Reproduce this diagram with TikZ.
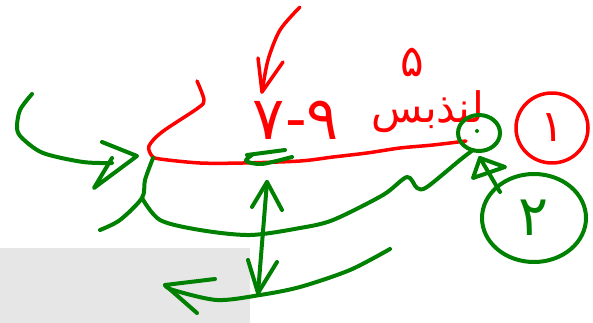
\documentclass[tikz,border=0pt]{standalone}
\usepackage{fontspec}
\usetikzlibrary{shapes.geometric}
\newfontfamily\arabicfont[Script=Arabic]{DejaVu Sans}
\TeXXeTstate=1
\definecolor{sketchgreen}{HTML}{008000}
\definecolor{sketchred}{HTML}{FF0000}
\definecolor{paper}{HTML}{E6E6E6}
\begin{document}
\begin{tikzpicture}[x=1pt,y=-1pt,
  rs/.style={draw=sketchred,line width=3.5pt,line cap=round,line join=round},
  gs/.style={draw=sketchgreen,line width=4pt,line cap=round,line join=round},
  rtext/.style={text=sketchred,inner sep=0pt,font=\arabicfont\fontsize{#1}{#1}\selectfont},
  gtext/.style={text=sketchgreen,inner sep=0pt,font=\arabicfont\fontsize{#1}{#1}\selectfont}]
\useasboundingbox (0,0) rectangle (593,323);
% grey paper patch
\fill[paper] (0,248) rectangle (250,323);
% red arrow from top
\draw[rs] plot[smooth] coordinates {(300,7) (280,30) (268,60) (262,92)};
\draw[rs] (258,58) -- (262,92) -- (283,62);
% red bracket and long line
\draw[rs] plot[smooth] coordinates {(197,81) (204,100) (198,108) (162,132) (149,146) (152,156) (160,159) (200,163) (243,163) (300,161) (333,157) (367,153) (400,148) (433,145) (466,141)};
% texts
\node[rtext=60] (range) at (296,120) {۷-۹};
\node[rtext=44] (five) at (412,62) {۵};
\node[rtext=42] (word) at (428,112) {\beginR لنذبس\endR};
\node[rtext=44] (one) at (552,128) {۱};
\draw[rs] (one) ellipse [x radius=36,y radius=35];
% green small circle
\node[draw=sketchgreen,line width=4pt,ellipse,minimum width=42pt,minimum height=36pt,inner sep=0pt] (ball) at (479,133) {};
\fill[sketchgreen] (477,131) circle (2pt);
% green circle two
\node[gtext=56] (two) at (534,218) {۲};
\draw[gs] (two) ellipse [x radius=52,y radius=44];
% arrow from two to ball
\draw[gs] (500,192) -- (480,158);
\draw[gs] (473,178) -- (480,158) -- (505,167) -- cycle;
% left hook arrow
\draw[gs] plot[smooth] coordinates {(32,94) (20,110) (17,128) (22,138) (43,153) (83,162) (112,163)};
\draw[gs] (102,142) -- (137,156) -- (94,188) -- (112,158);
% green stroke down from left corner and long curve to ball
\draw[gs] plot[smooth] coordinates {(153,158) (145,180) (142,198) (120,220) (100,230)};
\draw[gs] plot[smooth] coordinates {(142,198) (160,220) (200,230) (250,235) (300,228) (333,220) (383,195) (407,177) (417,188) (427,187) (460,160) (473,150)};
% scribble under numbers
\draw[gs] plot[smooth] coordinates {(247,155) (285,150)};
\draw[gs] plot[smooth] coordinates {(292,157) (262,164) (246,161) (252,155)};
% vertical double arrow
\draw[gs] (267,182) -- (258,293);
\draw[gs] (252,207) -- (267,182) -- (282,210);
\draw[gs] (248,260) -- (258,293) -- (277,262);
% lower green curve with arrow
\draw[gs] plot[smooth] coordinates {(390,249) (350,270) (300,287) (260,295) (217,300) (173,290) (165,285)};
\draw[gs] (215,279) -- (165,285) -- (197,313);
\end{tikzpicture}
\end{document}
